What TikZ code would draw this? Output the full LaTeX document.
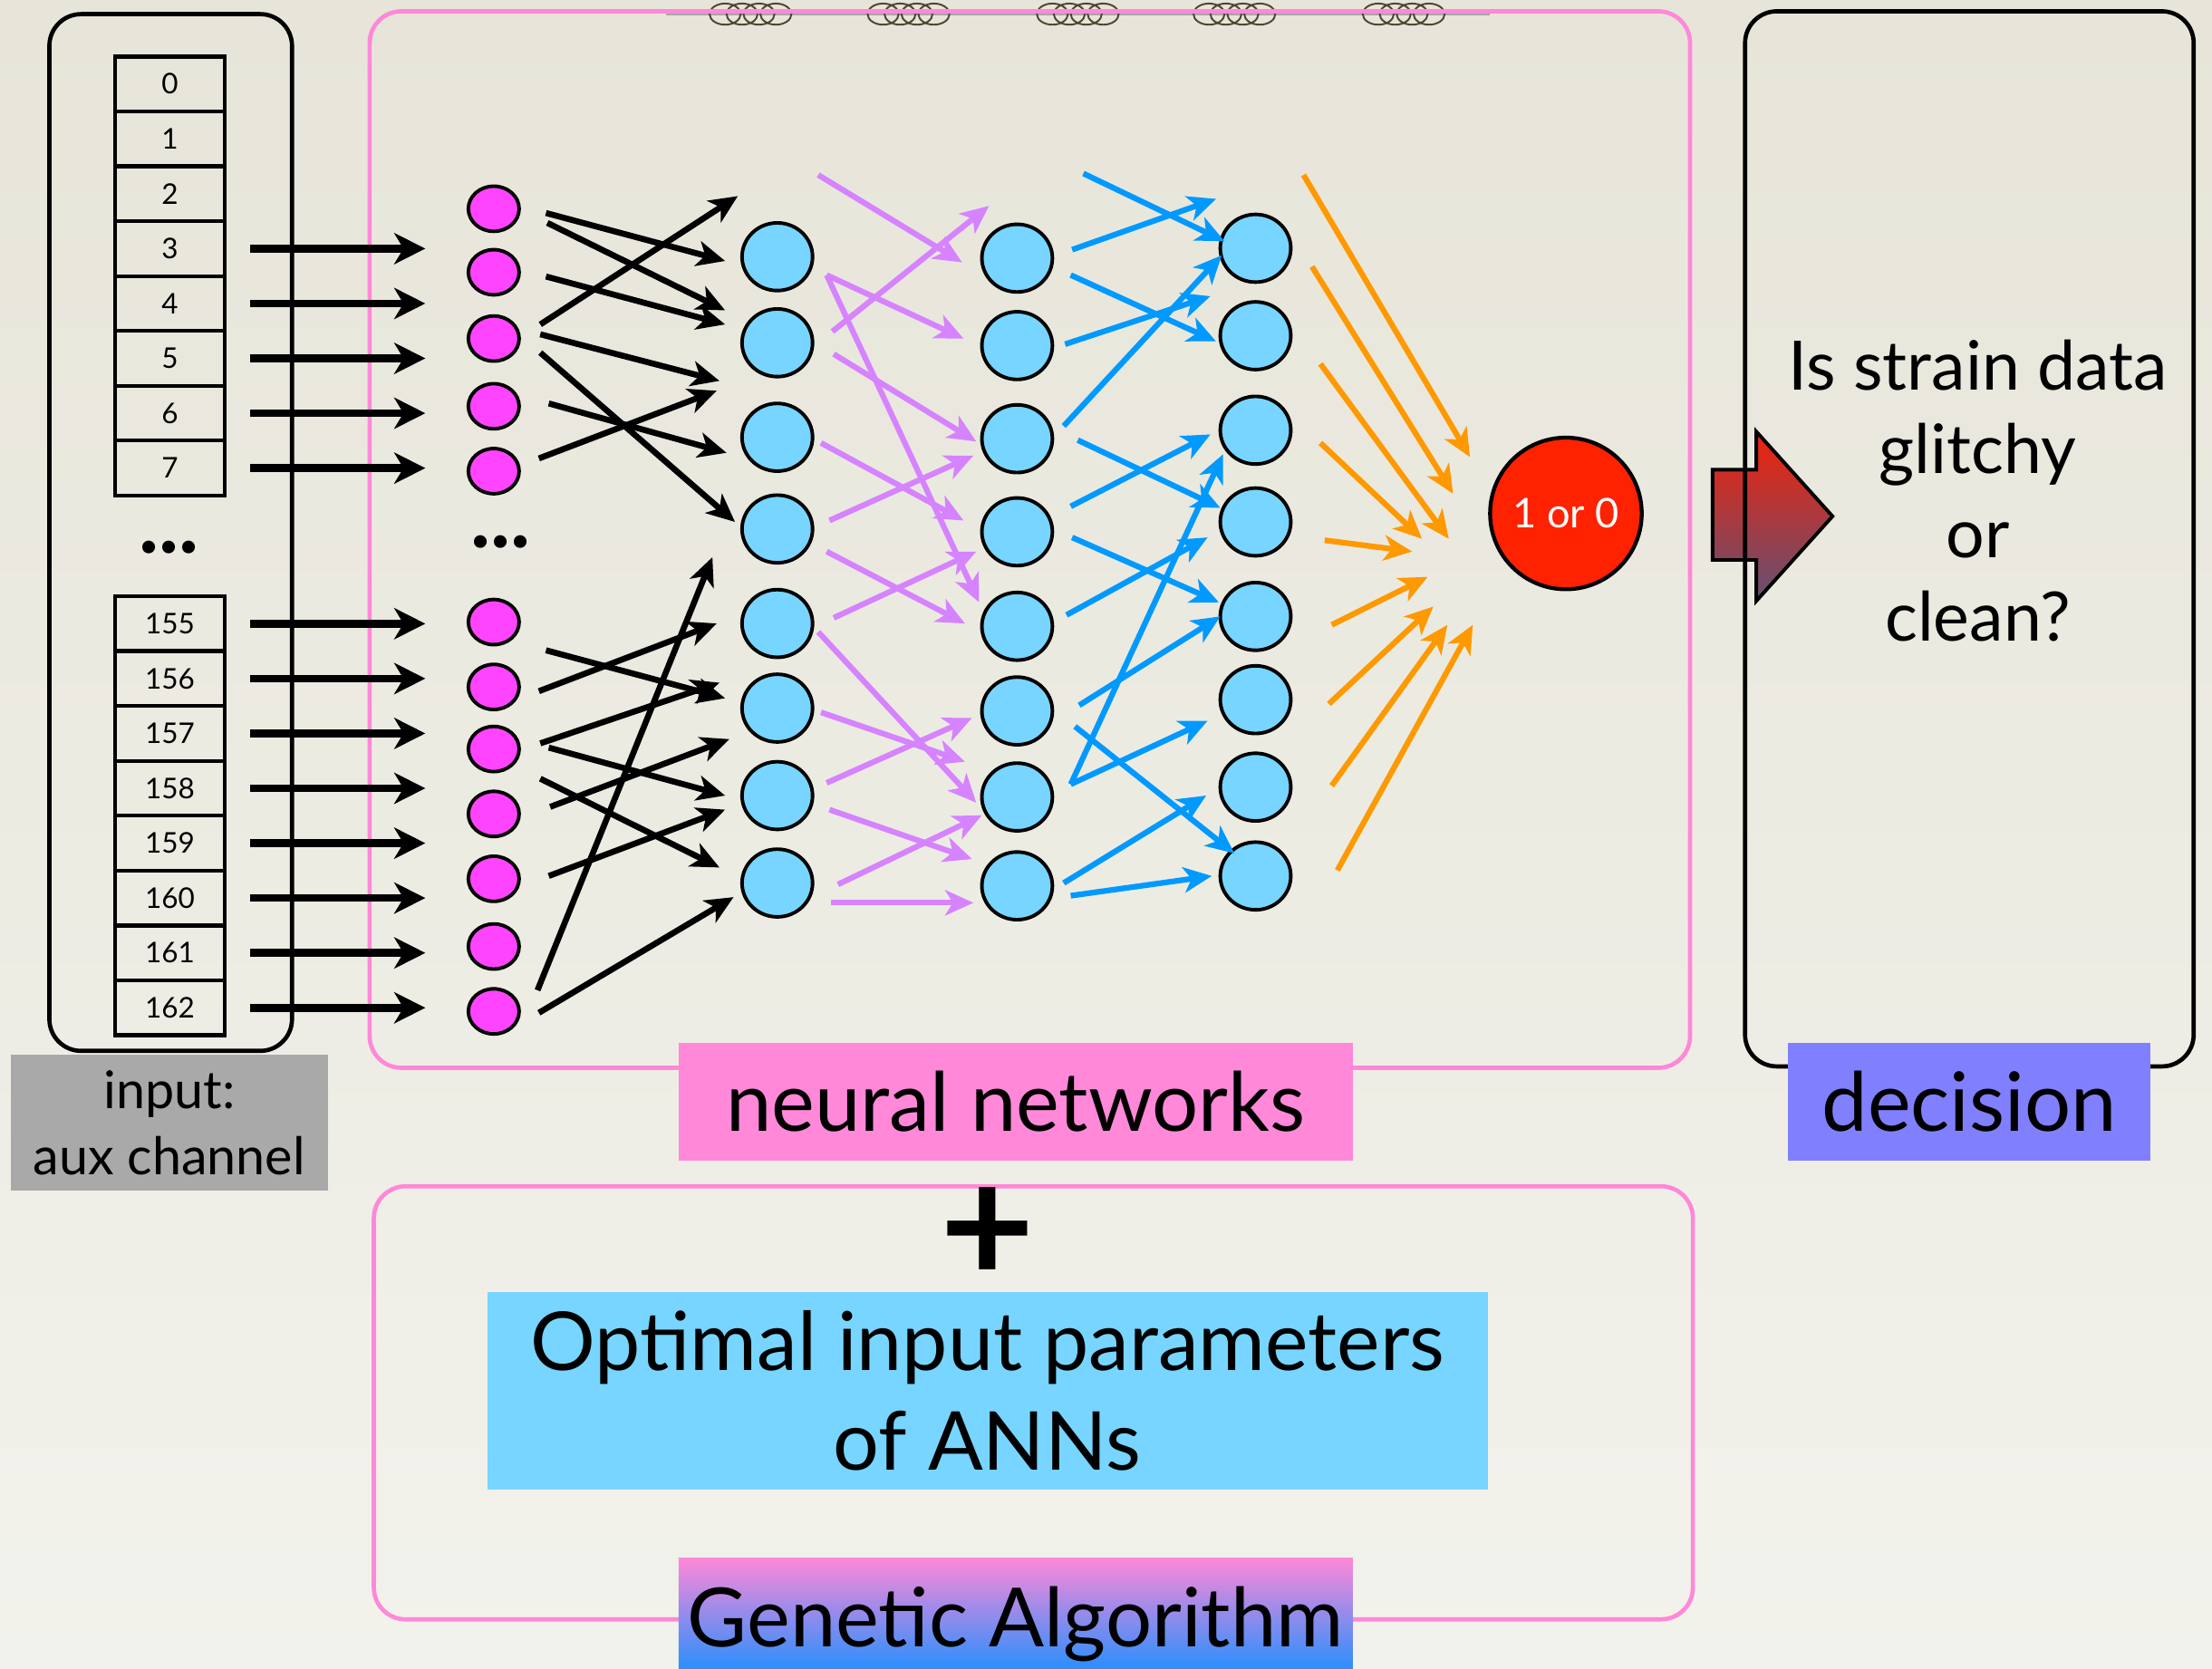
\documentclass[tikz,border=0pt]{standalone}
\usepackage{fontspec}
\setmainfont{Lato}
\usetikzlibrary{matrix,shapes.geometric,arrows.meta}

\definecolor{paperA}{RGB}{231,229,217}
\definecolor{paperB}{RGB}{242,242,236}
\definecolor{inmag}{HTML}{FF44FF}
\definecolor{hidblue}{HTML}{77D5FF}
\definecolor{wirepurple}{HTML}{D683FF}
\definecolor{wireblue}{HTML}{0099FF}
\definecolor{wireorange}{HTML}{FF9900}
\definecolor{outred}{HTML}{FF2200}
\definecolor{nnpink}{HTML}{FF88D8}
\definecolor{decblue}{HTML}{8080FF}
\definecolor{auxgray}{HTML}{A9A9A9}
\definecolor{gablue}{HTML}{1E8FFF}
\definecolor{coilbrown}{HTML}{4D4630}
\definecolor{arrowtop}{RGB}{240,35,10}
\definecolor{arrowbot}{RGB}{100,80,115}

\tikzset{
    chan/.style={draw, line width=0.55mm, minimum width=15.6mm, minimum height=7.78mm,
                 inner sep=0pt, outer sep=0pt, font=\fontsize{11.5}{13}\selectfont},
    innode/.style={ellipse, draw, line width=0.5mm, fill=inmag,
                   minimum width=7.2mm, minimum height=6.4mm, inner sep=0pt},
    hidnode/.style={ellipse, draw, line width=0.5mm, fill=hidblue,
                    minimum width=10mm, minimum height=9.6mm, inner sep=0pt},
    outnode/.style={circle, draw, line width=0.55mm, fill=outred, minimum size=21.5mm,
                    inner sep=0pt, text=white, font=\fontsize{16.5}{16.5}\selectfont},
    feed/.style={line width=1.1mm, -{Stealth[length=4.4mm, width=4.4mm, inset=1.3mm]}},
    wire/.style={line width=0.85mm, -{Stealth[length=4mm, width=3.6mm, inset=1.1mm]}},
    frame/.style={line width=0.6mm, rounded corners=4.5mm},
    tag/.style={inner sep=0pt, minimum height=16.7mm, text height=8.5mm, text depth=0pt,
                font=\fontsize{33}{40}\selectfont},
    dots/.style={inner sep=0pt, font=\bfseries\fontsize{34}{34}\selectfont},
    coil/.style={draw=coilbrown, line width=0.25mm}
}

\begin{document}
\begin{tikzpicture}[x=0.2mm, y=-0.2mm]
    \fill[top color=paperA, bottom color=paperB] (0,0) rectangle (1568,1183);
    \useasboundingbox (0,0) rectangle (1568,1183);

    % big arrow into the decision box
    \draw[line width=0.5mm, line join=miter, top color=arrowtop, bottom color=arrowbot]
        (1214,333) -- (1245,333) -- (1245,306) -- (1299,366) -- (1245,426)
        -- (1245,397) -- (1214,397) -- cycle;

    % coils on the top edge
    \draw[gray!70, line width=0.4mm] (472,10) -- (1056,10);
    \foreach \c in {532,644,764,875,995}
        \foreach \d in {-18,-6,6,18}
            \draw[coil] ({\c+\d},10) ellipse [x radius=2.2mm, y radius=1.5mm];

    % frames
    \draw[frame] (35,10) rectangle (207,745);
    \draw[frame, nnpink] (262,8) rectangle (1198,757);
    \draw[frame] (1237,8) rectangle (1555,756);
    \draw[frame, nnpink] (265,841) rectangle (1200,1148);

    % input channels
    \matrix (top) [matrix of nodes, nodes={chan}, row sep=-0.55mm, inner sep=0pt] at (120.5,195.7) {
        0 \\ 1 \\ 2 \\ 3 \\ 4 \\ 5 \\ 6 \\ 7 \\
    };
    \matrix (bot) [matrix of nodes, nodes={chan}, row sep=-0.55mm, inner sep=0pt] at (120.5,578.3) {
        155 \\ 156 \\ 157 \\ 158 \\ 159 \\ 160 \\ 161 \\ 162 \\
    };
    \node[dots] (gapin) at (120,388) {...};
    \node[dots] (gapnn) at (355,384) {...};

    \foreach \r in {4,...,8}
        \draw[feed] ([xshift=3.6mm]top-\r-1.east) -- ++(124,0);
    \foreach \r in {1,...,8}
        \draw[feed] ([xshift=3.6mm]bot-\r-1.east) -- ++(124,0);

    % layers
    \foreach \y [count=\n] in {148,193,240,288,334,441,487,531,577,623,671,717}
        \node[innode] (i\n) at (350,\y) {};
    \foreach \y [count=\n] in {182,243,310,375,442,502,564,626}
        \node[hidnode] (h\n) at (551,\y) {};
    \foreach \y [count=\n] in {183,245,311,377,444,504,565,628}
        \node[hidnode] (g\n) at (721,\y) {};
    \foreach \y [count=\n] in {176,238,305,370,437,496,558,621}
        \node[hidnode] (k\n) at (890,\y) {};
    \node[outnode] (out) at (1110,364) {1 or 0};

    % input -> first hidden
    \foreach \src/\sx/\sy/\dst/\dx/\dy in {
        i1/37/3/h1/-37/3, i1/38/10/h2/-37/-23, i2/37/3/h2/-37/-13,
        i3/33/-10/h1/-28/-43, i3/33/-3/h3/-41/-40, i3/33/10/h4/-30/-5,
        i4/39/-2/h3/-36/11, i5/32/-9/h3/-43/-33,
        i6/37/20/h6/-37/-7, i7/32/3/h5/-43/0, i8/33/-4/h6/-41/-18,
        i8/39/-1/h7/-37/0, i8/33/21/h8/-41/-11, i9/40/-5/h6/-34/22,
        i10/39/-2/h7/-37/10, i12/31/-15/h4/-46/20, i12/32/1/h8/-31/10}
        \draw[wire] ([shift={(\sx,\sy)}]\src.center) -- ([shift={(\dx,\dy)}]\dst.center);

    % first -> second hidden
    \foreach \src/\sx/\sy/\dst/\dx/\dy in {
        h1/29/-58/g1/-39/3, h2/39/-8/g1/-20/-37, h1/35/13/g2/-38/-5,
        h1/35/13/g5/-27/-17, h2/40/8/g3/-29/2, h3/31/4/g4/-38/-8,
        h4/37/-6/g3/-31/12, h4/35/16/g5/-37/-2, h5/40/-4/g4/-29/14,
        h5/29/6/g7/-29/4, h6/31/3/g7/-37/-25, h7/35/-9/g6/-32/5,
        h7/37/10/g8/-32/-19, h8/43/1/g7/-25/13, h8/38/14/g8/-31/12}
        \draw[wire, wirepurple, line width=0.8mm] ([shift={(\sx,\sy)}]\src.center) -- ([shift={(\dx,\dy)}]\dst.center);

    % second -> third hidden
    \foreach \src/\sx/\sy/\dst/\dx/\dy in {
        g1/47/-60/k1/-22/-5, g1/39/-6/k1/-28/-35, g1/38/12/k2/-28/4,
        g2/34/-1/k2/-32/-28, g3/33/-9/k1/-24/5, g3/43/1/k4/-25/-10,
        g4/38/-18/k3/-32/3, g4/39/4/k5/-26/-10, g5/35/-8/k4/-34/11,
        g6/44/-4/k5/-25/0, g7/38/-9/k3/-23/17, g7/38/-9/k6/-34/15,
        g6/41/11/k8/-15/-16, g8/33/-2/k7/-35/6, g8/38/7/k8/-31/0}
        \draw[wire, wireblue, line width=0.8mm] ([shift={(\sx,\sy)}]\src.center) -- ([shift={(\dx,\dy)}]\dst.center);

    % third hidden -> output
    \foreach \src/\sx/\sy/\dx/\dy in {
        k1/34/-52/-68/-40, k1/40/13/-80/-14, k2/46/20/-83/18,
        k3/46/9/-102/18, k4/49/13/-109/27, k5/54/6/-98/45,
        k6/52/3/-94/66, k7/54/-1/-84/79, k8/58/-4/-66/79}
        \draw[wire, wireorange, line width=0.8mm] ([shift={(\sx,\sy)}]\src.center) -- ([shift={(\dx,\dy)}]out.center);

    % decision text
    \node[align=center, font=\fontsize{27.5}{33.8}\selectfont] (ask) at (1402,348) {Is strain data\\glitchy\\or\\clean?};

    % labels
    \node[fill=auxgray, inner sep=0pt, minimum width=45mm, minimum height=19.2mm, align=center,
          font=\fontsize{21}{26.9}\selectfont] (auxlab) at (120,796) {input:\\aux channel};
    \node[tag, fill=nnpink, minimum width=95.6mm] (nnlab) at (720,781) {neural networks};
    \node[tag, fill=decblue, minimum width=51.4mm] (declab) at (1396,781) {decision};
    \node[inner sep=0pt, font=\bfseries\fontsize{66}{66}\selectfont] (plus) at (700,876) {+};
    \node[fill=hidblue, inner sep=0pt, minimum width=141.8mm, minimum height=28mm, align=center,
          font=\fontsize{32.8}{40}\selectfont] (optlab) at (700,986) {Optimal input parameters\\of ANNs};
    \node[tag, top color=nnpink, bottom color=gablue, minimum width=95.6mm] (galab) at (720,1146) {Genetic Algorithm};
\end{tikzpicture}
\end{document}
